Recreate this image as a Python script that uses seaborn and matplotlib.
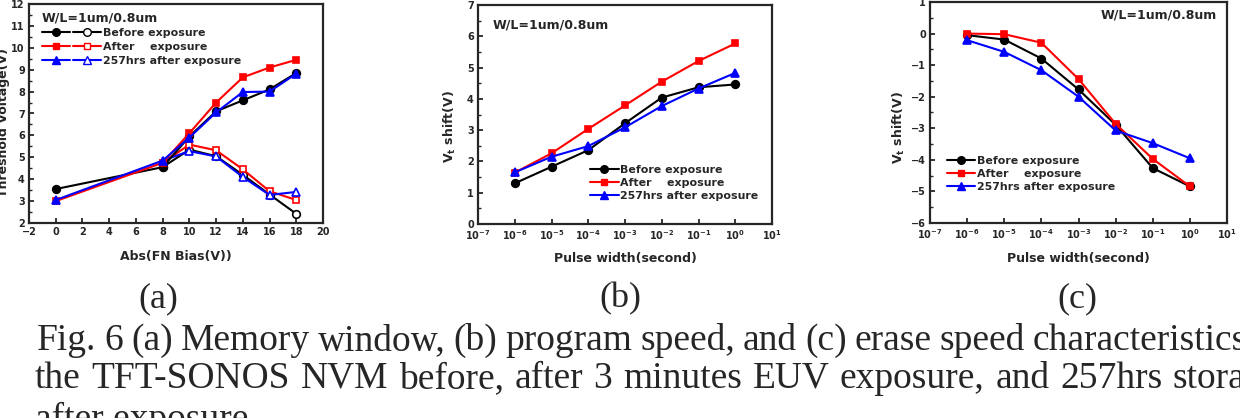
import numpy as np
import seaborn as sns
import matplotlib
matplotlib.use('Agg')
import matplotlib.pyplot as plt
from matplotlib.lines import Line2D
from matplotlib.legend_handler import HandlerTuple
from matplotlib.ticker import AutoMinorLocator, NullLocator, FuncFormatter

# (a) memory window: threshold voltage vs FN bias
bias = [0, 8, 10, 12, 14, 16, 18]
bias_erase = [8, 10, 12, 14, 16, 18]
vt_prog_before = [3.55, 4.55, 5.95, 7.1, 7.6, 8.1, 8.85]
vt_prog_after = [3.0, 4.75, 6.1, 7.5, 8.65, 9.1, 9.45]
vt_prog_257 = [3.05, 4.85, 5.9, 7.05, 7.98, 8.0, 8.82]
vt_erase_before = [4.55, 5.35, 5.05, 4.2, 3.3, 2.42]
vt_erase_after = [4.75, 5.58, 5.32, 4.45, 3.45, 3.05]
vt_erase_257 = [4.85, 5.28, 5.04, 4.1, 3.28, 3.42]

# (b) program speed and (c) erase speed: Vt shift vs pulse width
pulse = [1e-6, 1e-5, 1e-4, 1e-3, 1e-2, 1e-1, 1e0]
prog_before = [1.30, 1.83, 2.36, 3.22, 4.04, 4.37, 4.46]
prog_after = [1.64, 2.26, 3.04, 3.79, 4.55, 5.21, 5.77]
prog_257 = [1.65, 2.15, 2.49, 3.09, 3.77, 4.33, 4.83]
erase_before = [-0.05, -0.19, -0.79, -1.77, -2.89, -4.26, -4.84]
erase_after = [0.0, -0.02, -0.29, -1.44, -2.86, -3.97, -4.84]
erase_257 = [-0.21, -0.58, -1.16, -2.0, -3.07, -3.47, -3.95]

labels = ['Before exposure', 'After    exposure', '257hrs after exposure']
colors = ['black', '#ff0000', '#0000ff']
markers = ['o', 's', '^']
msizes = [5.5, 5.0, 6.0]

sns.set_style('ticks')
plt.rcParams['font.family'] = ['DejaVu Sans']
plt.rcParams['font.weight'] = 'bold'
plt.rcParams['axes.labelweight'] = 'bold'

W, H = 1240, 418
fig = plt.figure(figsize=(12.4, 4.18), dpi=100)


def rect(l, t, r, b):
    return [l / W, 1 - b / H, (r - l) / W, (b - t) / H]


ax_a = fig.add_axes(rect(29, 4, 323, 223))
ax_b = fig.add_axes(rect(478, 5, 772, 224))
ax_c = fig.add_axes(rect(930, 2, 1227, 223))


def draw(ax, x, y, i, hollow=False):
    sns.lineplot(x=x, y=y, ax=ax, color=colors[i], marker=markers[i],
                 markersize=msizes[i], markeredgecolor=colors[i],
                 markerfacecolor='white' if hollow else colors[i],
                 markeredgewidth=1.2, linewidth=1.5)


# panel (a): erase branch (open) first, program branch (filled) on top
for i, ys in enumerate([vt_erase_before, vt_erase_after, vt_erase_257]):
    draw(ax_a, bias_erase, ys, i, hollow=True)
for i, ys in enumerate([vt_prog_before, vt_prog_after, vt_prog_257]):
    draw(ax_a, bias, ys, i)

for ax in (ax_b, ax_c):
    ax.set_xscale('log')
for i, ys in enumerate([prog_before, prog_after, prog_257]):
    draw(ax_b, pulse, ys, i)
for i, ys in enumerate([erase_before, erase_after, erase_257]):
    draw(ax_c, pulse, ys, i)

# axes ranges and ticks
ax_a.set_xlim(-2, 20)
ax_a.set_xticks(range(-2, 21, 2))
ax_a.set_ylim(2, 12)
ax_a.set_yticks(range(2, 13))
ax_b.set_ylim(0, 7)
ax_b.set_yticks(range(0, 8))
ax_c.set_ylim(-6, 1)
ax_c.set_yticks(range(-6, 2))

logfmt = FuncFormatter(lambda v, p: r'$\mathbf{10^{%d}}$' % int(round(np.log10(v))))
for ax in (ax_b, ax_c):
    ax.set_xlim(1e-7, 1e1)
    ax.set_xticks([10.0 ** k for k in range(-7, 2)])
    ax.xaxis.set_major_formatter(logfmt)
    ax.xaxis.set_minor_locator(NullLocator())

for ax in (ax_a, ax_b, ax_c):
    ax.yaxis.set_minor_locator(AutoMinorLocator(2))
    ax.tick_params(which='major', direction='in', length=3.5, width=1.3,
                   labelsize=7, pad=3)
    ax.tick_params(which='minor', direction='in', length=2, width=1)
    for s in ax.spines.values():
        s.set_linewidth(1.6)

# axis labels
ax_a.set_xlabel('Abs(FN Bias(V))', fontsize=9)
ax_a.set_ylabel('Threshold Voltage(V)', fontsize=9)
ax_a.xaxis.set_label_coords(0.5, -0.125)
ax_a.yaxis.set_label_coords(-0.065, 0.46)
for ax in (ax_b, ax_c):
    ax.set_xlabel('Pulse width(second)', fontsize=9)
    ax.set_ylabel(r'$\mathbf{V_t}$ shift(V)', fontsize=9)
    ax.xaxis.set_label_coords(0.5, -0.13)
ax_b.yaxis.set_label_coords(-0.068, 0.443)
ax_c.yaxis.set_label_coords(-0.077, 0.432)

# device size notes
ax_a.text(0.044, 0.936, 'W/L=1um/0.8um', transform=ax_a.transAxes,
          fontsize=9, va='center', ha='left')
ax_b.text(0.051, 0.909, 'W/L=1um/0.8um', transform=ax_b.transAxes,
          fontsize=9, va='center', ha='left')
ax_c.text(0.966, 0.941, 'W/L=1um/0.8um', transform=ax_c.transAxes,
          fontsize=9, va='center', ha='right')

# legends
filled = [Line2D([], [], color=colors[i], marker=markers[i], markersize=msizes[i],
                 markerfacecolor=colors[i], markeredgecolor=colors[i], lw=1.5)
          for i in range(3)]
hollow = [Line2D([], [], color=colors[i], marker=markers[i], markersize=msizes[i],
                 markerfacecolor='white', markeredgecolor=colors[i], lw=1.5)
          for i in range(3)]

ax_a.legend([(f, h) for f, h in zip(filled, hollow)], labels,
            handler_map={tuple: HandlerTuple(ndivide=None, pad=0.35)},
            loc='upper left', bbox_to_anchor=(0.044, 0.892), borderaxespad=0,
            borderpad=0, frameon=False, fontsize=7.9, handlelength=5.4,
            handletextpad=0.2, labelspacing=0.37, numpoints=1)
ax_b.legend(filled, labels, loc='upper left', bbox_to_anchor=(0.381, 0.271),
            borderaxespad=0, borderpad=0, frameon=False, fontsize=7.9,
            handlelength=2.6, handletextpad=0.15, labelspacing=0.3, numpoints=1)
ax_c.legend(filled, labels, loc='upper left', bbox_to_anchor=(0.057, 0.305),
            borderaxespad=0, borderpad=0, frameon=False, fontsize=7.9,
            handlelength=2.6, handletextpad=0.15, labelspacing=0.3, numpoints=1)

# panel tags and caption
serif = 'Liberation Serif'
cap_size = 27
for x, tag in [(158, '(a)'), (620, '(b)'), (1077, '(c)')]:
    fig.text(x / W, 1 - 307 / H, tag, ha='center', va='baseline',
             fontsize=26, family=serif, fontweight='normal')

renderer = fig.canvas.get_renderer()


def caption_line(words, x0, base, anchor_idx, anchor_x):
    texts = [fig.text(0, 1 - base / H, w, ha='left', va='baseline',
                      fontsize=cap_size, family=serif, fontweight='normal')
             for w in words]
    widths = [t.get_window_extent(renderer).width for t in texts]
    gap = (anchor_x - x0 - sum(widths[:anchor_idx])) / anchor_idx
    x = x0
    for t, w in zip(texts, widths):
        t.set_x(x / W)
        x += w + gap


line1 = 'Fig. 6 (a) Memory window, (b) program speed, and (c) erase speed characteristics of'.split()
line2 = 'the TFT-SONOS NVM before, after 3 minutes EUV exposure, and 257hrs storage'.split()
caption_line(line1, 37, 350, line1.index('characteristics'), 1033)
caption_line(line2, 35, 388, line2.index('storage'), 1173)
fig.text(35 / W, 1 - 429 / H, 'after exposure.', ha='left', va='baseline',
         fontsize=cap_size, family=serif, fontweight='normal')

fig.savefig('out.png', dpi=100)
